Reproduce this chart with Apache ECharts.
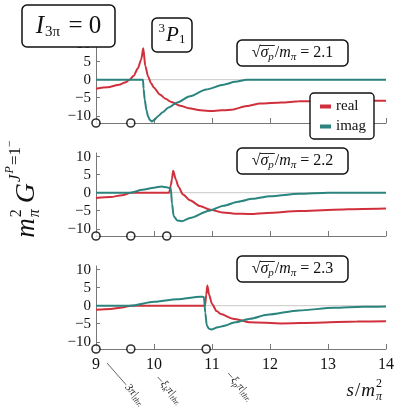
<!DOCTYPE html>
<html><head><meta charset="utf-8">
<script src="https://cdn.jsdelivr.net/npm/echarts@6/dist/echarts.min.js"></script>
<style>html,body{margin:0;padding:0;background:#fff}#c{width:398px;height:414px}</style>
</head><body><div id="c"></div>
<script>
// ---------- data ----------
const sigmaLabels = ['2.1', '2.2', '2.3'];
const xTicks = [9, 10, 11, 12, 13, 14];
const yTicks = [-10, -5, 0, 5, 10];

const s21Real = [9.0, 9.2, 9.4, 9.5, 9.58, 9.65, 9.72, 9.78, 9.815, 9.85, 9.9, 9.95, 10.0, 10.1, 10.2, 10.3, 10.45, 10.6, 10.8, 11.0, 11.34, 11.6, 11.83, 12.2, 12.5, 13.0, 13.5, 14.0];
const v21Real = [-2.5, -2.1, -1.4, -0.8, 0.0, 1.1, 3.1, 5.6, 8.7, 3.8, 0.8, -1.0, -2.2, -4.1, -5.3, -6.2, -7.2, -7.9, -8.5, -8.7, -8.3, -7.3, -6.6, -6.3, -6.0, -5.9, -5.8, -5.8];
const s21Imag = [9.0, 9.81, 9.82, 9.84, 9.87, 9.9, 9.93, 9.965, 10.0, 10.08, 10.15, 10.25, 10.4, 10.62, 10.9, 11.2, 11.4, 11.6, 12.0, 13.0, 14.0];
const v21Imag = [0, 0, -2.5, -5.5, -8.5, -10.3, -11.2, -11.6, -11.2, -10.0, -9.0, -7.7, -6.3, -4.6, -2.7, -1.4, -0.6, 0, 0, 0, 0];

const s22Real = [9.0, 9.25, 9.45, 9.6, 10.26, 10.29, 10.31, 10.33, 10.38, 10.42, 10.5, 10.62, 10.79, 10.97, 11.19, 11.4, 11.66, 11.95, 12.5, 13.1, 13.6, 14.0];
const v22Real = [-1.5, -1.2, -0.7, 0, 0, 2.0, 3.8, 6.1, 3.5, 1.7, -0.5, -2.1, -3.7, -4.7, -5.5, -5.8, -5.9, -5.6, -5.1, -4.7, -4.5, -4.4];
const s22Imag = [9.0, 9.6, 9.8, 10.0, 10.13, 10.22, 10.29, 10.31, 10.34, 10.4, 10.48, 10.62, 10.95, 11.2, 11.45, 11.7, 12.0, 12.5, 13.0, 14.0];
const v22Imag = [0, 0, 0.8, 1.4, 1.7, 1.5, 1.2, -3.0, -6.5, -7.7, -7.9, -7.0, -5.0, -3.6, -2.5, -1.7, -1.0, -0.3, 0, 0];

const s23Real = [9.0, 9.25, 9.45, 9.6, 10.88, 10.9, 10.92, 10.95, 11.0, 11.08, 11.15, 11.36, 11.66, 12.2, 12.8, 13.5, 14.0];
const v23Real = [-1.1, -0.9, -0.5, 0, 0, 3.0, 5.6, 3.0, 0.5, -1.5, -2.3, -3.6, -4.6, -4.9, -4.7, -4.4, -4.3];
const s23Imag = [9.0, 9.6, 10.0, 10.4, 10.8, 10.86, 10.885, 10.91, 10.95, 10.99, 11.1, 11.2, 11.4, 11.66, 11.95, 12.5, 13.1, 13.6, 14.0];
const v23Imag = [0, 0, 1.1, 1.8, 2.5, 2.4, -2.0, -5.5, -6.4, -6.6, -6.0, -5.6, -4.6, -3.6, -2.5, -1.3, -0.6, -0.3, -0.2];

const thresholds21 = [9, 9.6];
const thresholds22 = [9, 9.6, 10.22];
const thresholds23 = [9, 9.6, 10.9];
const thresholdNames = ['3π', 'ξk', 'ξp'];

// ---------- style / layout ----------
const FONT = "'Liberation Serif', 'DejaVu Serif', serif";
const RED = '#d0303c';
const TEAL = '#2b847e';
const AXIS = '#777';
const INK = '#111';
const Y_MIN = -12, Y_MAX = 11;
const gridTops = [40, 153, 266];
const GRID_H = 83;

const panels = [
  { sr: s21Real, vr: v21Real, si: s21Imag, vi: v21Imag, th: thresholds21 },
  { sr: s22Real, vr: v22Real, si: s22Imag, vi: v22Imag, th: thresholds22 },
  { sr: s23Real, vr: v23Real, si: s23Imag, vi: v23Imag, th: thresholds23 }
];
const zip = (a, b) => a.map((x, i) => [x, b[i]]);

const grid = [], xAxis = [], yAxis = [], series = [];
panels.forEach((p, i) => {
  grid.push({ left: 96, right: 12, top: gridTops[i], height: GRID_H });
  xAxis.push({
    gridIndex: i, type: 'value', min: 9, max: 14, interval: 1,
    axisLine: { show: true, onZero: false, lineStyle: { color: AXIS, width: 1 } },
    axisTick: { show: true, inside: true, length: 5, lineStyle: { color: AXIS } },
    axisLabel: { show: i === 2, fontFamily: FONT, fontSize: 16, color: INK, margin: 8 },
    splitLine: { show: false }
  });
  yAxis.push({
    gridIndex: i, type: 'value', min: Y_MIN, max: Y_MAX,
    axisLine: { show: true, onZero: false, lineStyle: { color: AXIS, width: 1 } },
    axisTick: { show: true, inside: true, length: 4, customValues: yTicks, lineStyle: { color: AXIS } },
    axisLabel: { customValues: yTicks, fontFamily: FONT, fontSize: 15, color: INK, margin: 5,
      formatter: v => String(v).replace('-', '\u2212') },
    splitLine: { show: false }
  });
  series.push({
    type: 'line', name: 'zero', xAxisIndex: i, yAxisIndex: i, data: [[9, 0], [14, 0]],
    symbol: 'none', silent: true, lineStyle: { color: '#c8c8c8', width: 1 }, z: 1
  });
  series.push({
    type: 'line', name: 'real', xAxisIndex: i, yAxisIndex: i, data: zip(p.sr, p.vr),
    symbol: 'none', smooth: 0.25, smoothMonotone: 'x',
    lineStyle: { color: RED, width: 2 }, itemStyle: { color: RED }, z: 3
  });
  series.push({
    type: 'line', name: 'imag', xAxisIndex: i, yAxisIndex: i, data: zip(p.si, p.vi),
    symbol: 'none', smooth: 0.25, smoothMonotone: 'x',
    lineStyle: { color: TEAL, width: 2 }, itemStyle: { color: TEAL }, z: 3
  });
  series.push({
    type: 'scatter', name: 'thr', xAxisIndex: i, yAxisIndex: i,
    data: p.th.map(t => [t, Y_MIN]), symbol: 'circle', symbolSize: 8, clip: false, silent: true,
    itemStyle: { color: '#fff', borderColor: '#000', borderWidth: 1.6 }, z: 10
  });
});

// ---------- math-like text layout helpers ----------
const mctx = document.createElement('canvas').getContext('2d');
function fontStr(size, it) { return (it ? 'italic ' : '') + size + 'px ' + FONT; }
function tw(t, size, it) { mctx.font = fontStr(size, it); return mctx.measureText(t).width; }
// tokens: {t, size, it, dy, stack, gap}
function layoutTokens(tokens, z) {
  let x = 0, lastStart = 0, lastW = 0;
  const items = [];
  tokens.forEach(tok => {
    const w = tw(tok.t, tok.size, tok.it);
    let tx;
    if (tok.stack) { tx = lastStart; lastW = Math.max(lastW, w); x = lastStart + lastW; }
    else { x += (tok.gap || 0); tx = x; lastStart = x; lastW = w; x += w; }
    items.push({ tx, w, tok });
  });
  const W = x;
  const children = items.map(o => ({
    type: 'text', x: o.tx - W / 2, y: o.tok.dy || 0, z: z,
    style: { text: o.tok.t, font: fontStr(o.tok.size, o.tok.it), fill: INK, align: 'left', verticalAlign: 'middle' }
  }));
  return { children, items, W };
}
function box(x, y, w, h, tokens, extra) {
  const lay = layoutTokens(tokens, 101);
  const inner = { type: 'group', x: w / 2, y: h / 2, children: lay.children.concat(extra ? extra(lay) : []) };
  return {
    type: 'group', x: x, y: y, z: 100, children: [
      { type: 'rect', shape: { x: 0, y: 0, width: w, height: h, r: 5 },
        style: { fill: '#fff', stroke: INK, lineWidth: 1.5 }, z: 100 },
      inner
    ]
  };
}

const graphics = [];
graphics.push(box(22, 5, 93, 42, [
  { t: 'I', size: 25, it: true, dy: 0 },
  { t: '3π', size: 15, it: false, dy: 6, gap: 1 },
  { t: ' = 0', size: 25, it: false, dy: 0, gap: 2 }
]));
graphics.push(box(152, 18, 40, 34, [
  { t: '3', size: 13, it: false, dy: -6 },
  { t: 'P', size: 21, it: true, dy: 0, gap: 1 },
  { t: '1', size: 13, it: false, dy: 5 }
]));
const sigmaTops = [40, 148, 256];
sigmaLabels.forEach((lab, k) => {
  graphics.push(box(237, sigmaTops[k], 111, 26, [
    { t: '√', size: 16, it: false, dy: 0 },
    { t: 'σ', size: 16, it: true, dy: 0 },
    { t: 'p', size: 11, it: true, dy: 4 },
    { t: '/', size: 16, it: false, dy: 0, gap: 1 },
    { t: 'm', size: 16, it: true, dy: 0 },
    { t: 'π', size: 11, it: true, dy: 4 },
    { t: ' = ' + lab, size: 16, it: false, dy: 0 }
  ], lay => {
    const a = lay.items[1].tx - lay.W / 2 - 0.5;
    const b = lay.items[2].tx + lay.items[2].w - lay.W / 2 + 1;
    return [{ type: 'line', z: 102, shape: { x1: a, y1: -7.5, x2: b, y2: -7.5 }, style: { stroke: INK, lineWidth: 0.9 } }];
  }));
});

// y-axis title (rotated)
const yTitle = layoutTokens([
  { t: 'm', size: 27, it: true, dy: 0 },
  { t: '2', size: 16, it: false, dy: -10, gap: 1 },
  { t: 'π', size: 16, it: true, dy: 8, stack: true },
  { t: 'G', size: 28, it: true, dy: 0, gap: 6 },
  { t: 'J', size: 17, it: true, dy: -11, gap: 1 },
  { t: 'P', size: 12, it: true, dy: -17, gap: 1 },
  { t: '=1', size: 17, it: false, dy: -11, gap: 1 },
  { t: '−', size: 12, it: false, dy: -17 }
], 50);
graphics.push({ type: 'group', x: 27, y: 189, rotation: Math.PI / 2, z: 50, children: yTitle.children });

// x-axis title
const xTitle = layoutTokens([
  { t: 's', size: 19, it: true, dy: 0 },
  { t: '/', size: 19, it: false, dy: 0, gap: 1 },
  { t: 'm', size: 19, it: true, dy: 0, gap: 1 },
  { t: '2', size: 12, it: false, dy: -7, gap: 1 },
  { t: 'π', size: 12, it: true, dy: 6, stack: true }
], 50);
graphics.push({ type: 'group', x: 382 - xTitle.W / 2, y: 391, z: 50, children: xTitle.children });

const chart = echarts.init(document.getElementById('c'), null, { renderer: 'canvas' });
chart.setOption({
  backgroundColor: '#fff',
  animation: false,
  grid, xAxis, yAxis, series,
  legend: {
    data: ['real', 'imag'], orient: 'vertical', left: 310, top: 93,
    icon: 'rect', itemWidth: 11, itemHeight: 4, itemGap: 5,
    padding: [6, 8, 5, 10], borderColor: INK, borderWidth: 1.4, borderRadius: 4,
    backgroundColor: '#fff', z: 20,
    textStyle: { fontFamily: FONT, fontSize: 15, color: INK }
  },
  graphic: graphics
});

// threshold labels below bottom panel, positioned from the axis scale
const labelOffsets = [[11, 14, 29], [27, 28, 6], [22, 24, 6]];
const thrGraphics = thresholds23.map((t, k) => {
  const p = chart.convertToPixel({ gridIndex: 2 }, [t, Y_MIN]);
  const o = labelOffsets[k];
  const name = thresholdNames[k];
  const toks = name === '3π'
    ? [{ t: '3π|', size: 11, it: true, dy: 0 }]
    : [{ t: 'ξ', size: 11, it: true, dy: 0 }, { t: name[1], size: 8, it: true, dy: 3 }, { t: 'π|', size: 11, it: true, dy: 0 }];
  toks.push({ t: 'thr.', size: 8, it: true, dy: 3 });
  const lay = layoutTokens(toks, 50);
  lay.children.forEach(c => { c.x += lay.W / 2 + o[2] + 1; c.style.fill = '#222'; });
  return {
    type: 'group', x: p[0] + o[0], y: p[1] + o[1], rotation: -0.85, z: 50,
    children: [
      { type: 'line', shape: { x1: 0, y1: 0, x2: o[2], y2: 0 }, style: { stroke: '#333', lineWidth: 0.7 } }
    ].concat(lay.children)
  };
});
chart.setOption({ graphic: graphics.concat(thrGraphics) });
</script>
</body></html>
